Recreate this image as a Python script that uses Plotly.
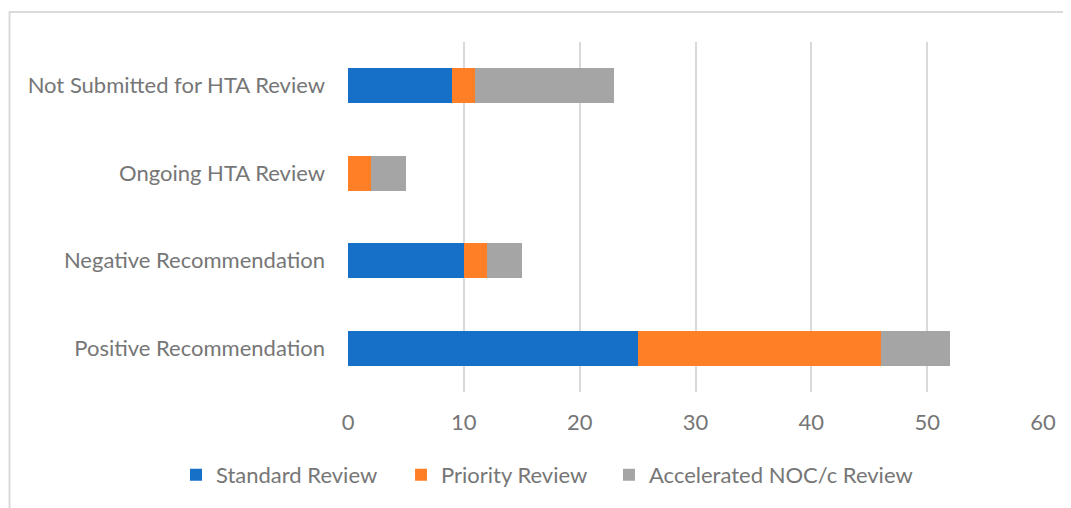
"""Stacked horizontal bar chart of HTA review outcomes by Health Canada review pathway."""

import plotly.graph_objects as go

categories = [
    "Positive Recommendation",
    "Negative Recommendation",
    "Ongoing HTA Review",
    "Not Submitted for HTA Review",
]
standard_review = [25, 10, 0, 9]
priority_review = [21, 2, 2, 2]
accelerated_review = [6, 3, 3, 12]

series_names = ["Standard Review", "Priority Review", "Accelerated NOC/c Review"]
series_colors = ["#1670c8", "#ff7f27", "#a5a5a5"]
x_ticks = [0, 10, 20, 30, 40, 50, 60]

TEXT_COLOR = "#767676"
FONT = "Lato"
FONT_SIZE = 22

# one legend per series so each entry can sit where it does in the source
legend_ids = ["legend", "legend2", "legend3"]
legend_x = [-0.2475, 0.0763, 0.3755]

fig = go.Figure()
for name, values, color, legend_id in zip(
    series_names,
    [standard_review, priority_review, accelerated_review],
    series_colors,
    legend_ids,
):
    fig.add_trace(
        go.Bar(
            y=categories,
            x=values,
            name=name,
            orientation="h",
            marker_color=color,
            marker_line_width=0,
            legend=legend_id,
        )
    )

legend_style = dict(
    orientation="h",
    xanchor="left",
    y=-0.237,
    yanchor="middle",
    font=dict(size=FONT_SIZE, color=TEXT_COLOR),
    itemwidth=30,
    bgcolor="rgba(0,0,0,0)",
)

# the page body adds an 8px margin, so the figure is 8px smaller than the window
fig.update_layout(
    barmode="stack",
    bargap=0.6,
    width=1063,
    height=500,
    margin=dict(l=340, r=28, t=34, b=116),
    plot_bgcolor="white",
    paper_bgcolor="white",
    font=dict(family=FONT, size=FONT_SIZE, color=TEXT_COLOR),
    showlegend=True,
    legend=dict(x=legend_x[0], **legend_style),
    legend2=dict(x=legend_x[1], **legend_style),
    legend3=dict(x=legend_x[2], **legend_style),
    shapes=[
        dict(
            type="rect",
            xref="paper",
            yref="paper",
            x0=-0.487,
            x1=1.2,
            y0=-0.5,
            y1=1.0857,
            line=dict(color="#d9d9d9", width=2),
            fillcolor="rgba(0,0,0,0)",
            layer="below",
        )
    ],
)

fig.update_xaxes(
    range=[0, 60],
    tickvals=x_ticks,
    showgrid=True,
    gridcolor="#d9d9d9",
    gridwidth=2,
    zeroline=False,
    showline=False,
    ticks="",
    ticklabelstandoff=15,
    tickfont=dict(size=FONT_SIZE, color=TEXT_COLOR),
)

fig.update_yaxes(
    showgrid=False,
    zeroline=False,
    showline=False,
    ticks="",
    ticklabelstandoff=22,
    tickfont=dict(size=FONT_SIZE, color=TEXT_COLOR),
)

fig.write_html("out.html")
